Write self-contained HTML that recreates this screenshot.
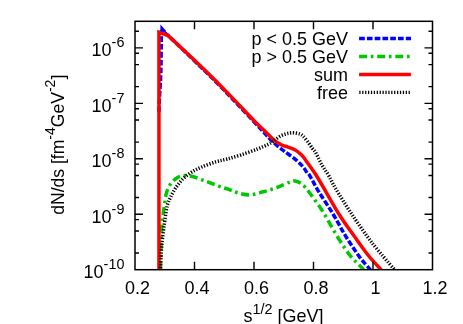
<!DOCTYPE html>
<html><head><meta charset="utf-8"><style>
html,body{margin:0;padding:0;background:#fff;}
body{width:463px;height:324px;overflow:hidden;}
svg{display:block;will-change:transform;font-family:"Liberation Sans",sans-serif;font-size:18.0px;fill:#000;}
</style></head><body>
<svg width="463" height="324" viewBox="0 0 463 324">
<rect width="463" height="324" fill="#fff"/>
<defs><clipPath id="c"><rect x="135.0" y="21.3" width="297.5" height="248.39999999999998"/></clipPath></defs>
<g fill="none" stroke-width="3.5" stroke-linejoin="miter" stroke-miterlimit="20" clip-path="url(#c)">
<path d="M159.00 112.00 C159.02 110.67 159.08 105.33 159.10 104.00 C159.18 102.50 159.37 99.00 159.60 95.00 C159.83 91.00 160.27 85.00 160.50 80.00 C160.73 75.00 160.88 70.83 161.00 65.00 C161.12 59.17 161.20 50.75 161.25 45.00 C161.30 39.25 161.29 32.92 161.30 30.50 C162.45 31.33 167.05 34.67 168.20 35.50 C173.47 40.58 191.53 57.97 199.80 66.00 C208.07 74.03 211.98 77.83 217.80 83.70 C223.62 89.57 228.58 94.77 234.70 101.20 C240.82 107.63 249.45 116.90 254.50 122.30 C259.55 127.70 262.42 130.83 265.00 133.60 C267.58 136.37 268.42 137.30 270.00 138.90 C271.58 140.50 273.07 141.85 274.50 143.20 C275.93 144.55 277.15 145.80 278.60 147.00 C280.05 148.20 281.75 149.33 283.20 150.40 C284.65 151.47 285.18 151.83 287.30 153.40 C289.42 154.97 293.32 157.60 295.90 159.80 C298.48 162.00 300.90 164.40 302.80 166.60 C304.70 168.80 306.17 171.55 307.30 173.00 C308.43 174.45 307.75 172.28 309.60 175.30 C311.45 178.32 314.50 184.65 318.40 191.10 C322.30 197.55 328.42 206.43 333.00 214.00 C337.58 221.57 341.45 229.30 345.90 236.50 C350.35 243.70 355.82 251.88 359.70 257.20 C363.58 262.52 367.40 266.22 369.20 268.40 C371.00 270.58 370.28 269.98 370.50 270.30" stroke="#0000ff" stroke-linejoin="bevel" stroke-dasharray="5.7 2.08"/>
<path d="M160.50 269.00 C160.62 264.17 160.93 247.83 161.20 240.00 C161.47 232.17 161.77 226.45 162.10 222.00 C162.43 217.55 162.77 216.38 163.20 213.30 C163.63 210.22 164.17 206.85 164.70 203.50 C165.23 200.15 165.40 196.50 166.40 193.20 C167.40 189.90 168.83 186.30 170.70 183.70 C172.57 181.10 175.30 178.95 177.60 177.60 C179.90 176.25 181.90 175.73 184.50 175.60 C187.10 175.47 189.73 175.88 193.20 176.80 C196.67 177.72 200.98 179.52 205.30 181.10 C209.62 182.68 215.08 184.87 219.10 186.30 C223.12 187.73 226.37 188.63 229.40 189.70 C232.43 190.77 233.97 191.83 237.30 192.70 C240.63 193.57 245.08 195.05 249.40 194.90 C253.72 194.75 258.60 193.03 263.20 191.80 C267.80 190.57 272.68 189.08 277.00 187.50 C281.32 185.92 286.07 183.37 289.10 182.30 C292.13 181.23 293.03 180.78 295.20 181.10 C297.37 181.42 299.80 182.38 302.10 184.20 C304.40 186.02 306.70 189.12 309.00 192.00 C311.30 194.88 313.45 198.00 315.90 201.50 C318.35 205.00 320.13 207.17 323.70 213.00 C327.27 218.83 333.02 229.57 337.30 236.50 C341.58 243.43 345.37 249.43 349.40 254.60 C353.43 259.77 359.07 264.88 361.50 267.50 C363.93 270.12 363.58 269.83 364.00 270.30" stroke="#00c800" stroke-dasharray="8.0 3.75 2.6 3.75"/>
<path d="M160.35 24.6 L160.35 31 L165.9 33 L165.9 30.5 Z" fill="#0000ff" stroke="none"/>
<path d="M158.95 271.00 C158.95 232.50 158.95 78.50 158.95 40.00 C158.95 38.72 158.95 33.58 158.95 32.30 C160.47 32.85 166.57 35.05 168.10 35.60 C173.42 40.58 191.68 57.57 200.00 65.50 C208.32 73.43 212.17 77.35 218.00 83.20 C223.83 89.05 228.83 94.18 235.00 100.60 C241.17 107.02 249.80 116.40 255.00 121.70 C260.20 127.00 263.20 129.48 266.20 132.40 C269.20 135.32 270.93 137.38 273.00 139.20 C275.07 141.02 276.90 142.23 278.60 143.30 C280.30 144.37 281.75 145.02 283.20 145.60 C284.65 146.18 285.58 146.20 287.30 146.80 C289.02 147.40 292.07 148.60 293.50 149.20 C294.93 149.80 294.75 149.60 295.90 150.40 C297.05 151.20 299.25 153.02 300.40 154.00 C301.55 154.98 301.95 155.30 302.80 156.30 C303.65 157.30 304.30 158.33 305.50 160.00 C306.70 161.67 308.22 163.75 310.00 166.30 C311.78 168.85 314.20 172.18 316.20 175.30 C318.20 178.42 318.12 178.38 322.00 185.00 C325.88 191.62 334.08 206.42 339.50 215.00 C344.92 223.58 349.68 229.75 354.50 236.50 C359.32 243.25 364.08 250.10 368.40 255.50 C372.72 260.90 378.18 266.42 380.40 268.90 C382.62 271.38 381.48 270.15 381.70 270.40" stroke="#ff0000"/>
<path d="M160.30 271.00 C160.57 266.57 161.18 252.53 161.90 244.40 C162.62 236.27 163.70 228.67 164.60 222.20 C165.50 215.73 166.28 209.80 167.30 205.60 C168.32 201.40 169.27 200.00 170.70 197.00 C172.13 194.00 173.88 190.58 175.90 187.60 C177.92 184.62 180.20 181.67 182.80 179.10 C185.40 176.53 188.33 174.22 191.50 172.20 C194.67 170.18 197.78 168.72 201.80 167.00 C205.82 165.28 211.37 163.23 215.60 161.90 C219.83 160.57 222.93 160.18 227.20 159.00 C231.47 157.82 236.17 156.47 241.20 154.80 C246.23 153.13 252.93 150.72 257.40 149.00 C261.87 147.28 265.48 145.67 268.00 144.50 C270.52 143.33 271.33 142.77 272.50 142.00 C273.67 141.23 273.68 140.88 275.00 139.90 C276.32 138.92 278.60 137.10 280.40 136.10 C282.20 135.10 284.20 134.42 285.80 133.90 C287.40 133.38 288.57 133.18 290.00 133.00 C291.43 132.82 292.77 132.63 294.40 132.80 C296.03 132.97 298.37 133.45 299.80 134.00 C301.23 134.55 301.73 134.90 303.00 136.10 C304.27 137.30 305.85 139.18 307.40 141.20 C308.95 143.22 310.90 146.27 312.30 148.20 C313.70 150.13 314.22 150.02 315.80 152.80 C317.38 155.58 319.68 161.15 321.80 164.90 C323.92 168.65 326.20 171.37 328.50 175.30 C330.80 179.23 331.68 181.97 335.60 188.50 C339.52 195.03 345.97 205.50 352.00 214.50 C358.03 223.50 364.90 233.52 371.80 242.50 C378.70 251.48 389.53 263.77 393.40 268.40 C397.27 273.03 394.73 269.98 395.00 270.30" stroke="#000" stroke-dasharray="1.25 1.65"/>
</g>
<g fill="none" stroke-width="3.4">
<path d="M359.1 38.5H411" stroke="#0000ff" stroke-dasharray="5.7 2.08"/>
<path d="M359.1 56.5H411" stroke="#00c800" stroke-dasharray="8.0 3.75 2.6 3.75"/>
<path d="M359.1 74.5H410.9" stroke="#ff0000"/>
<path d="M359.3 92.4H410" stroke="#000" stroke-dasharray="1.25 1.65"/>
</g>
<rect x="135.0" y="21.3" width="297.5" height="248.39999999999998" fill="none" stroke="#000" stroke-width="1.5"/>
<path d="M194.50 269.70 V261.70 M194.50 21.30 V29.30 M254.00 269.70 V261.70 M254.00 21.30 V29.30 M313.50 269.70 V261.70 M313.50 21.30 V29.30 M373.00 269.70 V261.70 M373.00 21.30 V29.30 M135.00 253.01 H139.00 M432.50 253.01 H428.50 M135.00 230.94 H139.00 M432.50 230.94 H428.50 M135.00 219.62 H139.00 M432.50 219.62 H428.50 M135.00 214.25 H143.00 M432.50 214.25 H424.50 M135.00 197.56 H139.00 M432.50 197.56 H428.50 M135.00 175.49 H139.00 M432.50 175.49 H428.50 M135.00 164.17 H139.00 M432.50 164.17 H428.50 M135.00 158.80 H143.00 M432.50 158.80 H424.50 M135.00 142.11 H139.00 M432.50 142.11 H428.50 M135.00 120.04 H139.00 M432.50 120.04 H428.50 M135.00 108.72 H139.00 M432.50 108.72 H428.50 M135.00 103.35 H143.00 M432.50 103.35 H424.50 M135.00 86.66 H139.00 M432.50 86.66 H428.50 M135.00 64.59 H139.00 M432.50 64.59 H428.50 M135.00 53.27 H139.00 M432.50 53.27 H428.50 M135.00 47.90 H143.00 M432.50 47.90 H424.50 M135.00 31.21 H139.00 M432.50 31.21 H428.50" fill="none" stroke="#000" stroke-width="1.4"/>
<g><text transform="translate(137.50 294.00) scale(1 0.976)" text-anchor="middle">0.2</text><text transform="translate(197.00 294.00) scale(1 0.976)" text-anchor="middle">0.4</text><text transform="translate(256.50 294.00) scale(1 0.976)" text-anchor="middle">0.6</text><text transform="translate(316.00 294.00) scale(1 0.976)" text-anchor="middle">0.8</text><text transform="translate(375.50 294.00) scale(1 0.976)" text-anchor="middle">1</text><text transform="translate(435.00 294.00) scale(1 0.976)" text-anchor="middle">1.2</text></g>
<g><text transform="translate(124.40 277.95) scale(1 0.976)" text-anchor="end">10<tspan dy="-9.2" font-size="14.4">-10</tspan></text><text transform="translate(124.40 222.50) scale(1 0.976)" text-anchor="end">10<tspan dy="-9.2" font-size="14.4">-9</tspan></text><text transform="translate(124.40 167.05) scale(1 0.976)" text-anchor="end">10<tspan dy="-9.2" font-size="14.4">-8</tspan></text><text transform="translate(124.40 111.60) scale(1 0.976)" text-anchor="end">10<tspan dy="-9.2" font-size="14.4">-7</tspan></text><text transform="translate(124.40 56.15) scale(1 0.976)" text-anchor="end">10<tspan dy="-9.2" font-size="14.4">-6</tspan></text></g>
<text transform="translate(348.00 45.30) scale(1 0.976)" text-anchor="end">p &lt; 0.5 GeV</text><text transform="translate(348.00 63.10) scale(1 0.976)" text-anchor="end">p &gt; 0.5 GeV</text><text transform="translate(348.00 80.90) scale(1 0.976)" text-anchor="end">sum</text><text transform="translate(348.00 98.60) scale(1 0.976)" text-anchor="end">free</text>
<text transform="translate(243.60 322.40) scale(1 0.976)" text-anchor="start">s<tspan dy="-8.7" font-size="14.4">1/2</tspan><tspan dy="8.7"> [GeV]</tspan></text>
<text transform="translate(63.8 214.8) scale(1 0.976) rotate(-90)">dN/ds [fm<tspan dy="-9.3" font-size="14.4">-4</tspan><tspan dy="9.3">GeV</tspan><tspan dy="-9.3" font-size="14.4">-2</tspan><tspan dy="9.3">]</tspan></text>
</svg>
</body></html>
